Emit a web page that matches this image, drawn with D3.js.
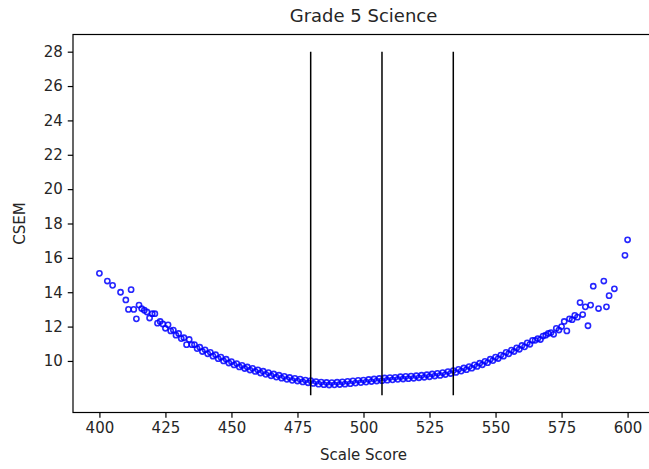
<!DOCTYPE html>
<html>
<head>
<meta charset="utf-8">
<script src="https://cdn.jsdelivr.net/npm/d3@7"></script>
<style>
  body { margin: 0; background: #fff; }
  text { font-family: "DejaVu Sans", sans-serif; fill: #262626; }
</style>
</head>
<body>
<script>
var width = 649;
var height = 469;

var title = "Grade 5 Science";
var xLabel = "Scale Score";
var yLabel = "CSEM";

// scale score and CSEM
var scores = [400, 403, 405, 408, 410, 411, 412, 413, 414, 415, 416, 417, 418, 419, 420, 421, 422, 423, 424, 425,
  426, 427, 428, 429, 430, 431, 432, 433, 434, 435, 436, 437, 438, 439, 440, 441, 442, 443, 444, 445,
  446, 447, 448, 449, 450, 451, 452, 453, 454, 455, 456, 457, 458, 459, 460, 461, 462, 463, 464, 465,
  466, 467, 468, 469, 470, 471, 472, 473, 474, 475, 476, 477, 478, 479, 480, 481, 482, 483, 484, 485,
  486, 487, 488, 489, 490, 491, 492, 493, 494, 495, 496, 497, 498, 499, 500, 501, 502, 503, 504, 505,
  506, 507, 508, 509, 510, 511, 512, 513, 514, 515, 516, 517, 518, 519, 520, 521, 522, 523, 524, 525,
  526, 527, 528, 529, 530, 531, 532, 533, 534, 535, 536, 537, 538, 539, 540, 541, 542, 543, 544, 545,
  546, 547, 548, 549, 550, 551, 552, 553, 554, 555, 556, 557, 558, 559, 560, 561, 562, 563, 564, 565,
  566, 567, 568, 569, 570, 571, 572, 573, 574, 575, 576, 577, 578, 579, 580, 581, 582, 583, 584, 585,
  586, 587, 589, 591, 592, 593, 595, 599, 600];
var csem = [15.1, 14.65, 14.4, 14.0, 13.55, 13.0, 14.15, 13.0, 12.45, 13.25, 13.05, 12.95, 12.85, 12.5, 12.75, 12.75, 12.2, 12.3, 12.15, 11.9,
  12.1, 11.75, 11.8, 11.5, 11.6, 11.3, 11.35, 10.95, 11.25, 10.95, 10.95, 10.72, 10.8, 10.55, 10.65, 10.42, 10.5, 10.28, 10.36, 10.13,
  10.22, 10.0, 10.1, 9.88, 9.96, 9.77, 9.85, 9.65, 9.74, 9.56, 9.65, 9.47, 9.57, 9.39, 9.48, 9.3, 9.4, 9.22, 9.32, 9.14,
  9.24, 9.06, 9.17, 9.0, 9.1, 8.93, 9.04, 8.87, 8.99, 8.83, 8.94, 8.78, 8.89, 8.73, 8.85, 8.69, 8.8, 8.65, 8.77, 8.62,
  8.75, 8.6, 8.74, 8.61, 8.76, 8.63, 8.78, 8.65, 8.81, 8.68, 8.84, 8.71, 8.87, 8.74, 8.89, 8.77, 8.92, 8.8, 8.95, 8.83,
  8.98, 8.85, 9.01, 8.88, 9.03, 8.9, 9.05, 8.93, 9.08, 8.95, 9.1, 8.97, 9.12, 8.99, 9.14, 9.02, 9.17, 9.05, 9.2, 9.08,
  9.24, 9.12, 9.28, 9.16, 9.32, 9.21, 9.38, 9.27, 9.44, 9.33, 9.51, 9.41, 9.59, 9.49, 9.67, 9.58, 9.77, 9.68, 9.87, 9.78,
  9.98, 9.9, 10.1, 10.02, 10.22, 10.14, 10.34, 10.28, 10.5, 10.42, 10.63, 10.55, 10.76, 10.68, 10.9, 10.82, 11.05, 10.97, 11.2, 11.2,
  11.3, 11.25, 11.45, 11.5, 11.6, 11.65, 11.55, 11.9, 11.8, 12.0, 12.3, 11.75, 12.45, 12.4, 12.65, 12.55, 13.4, 12.7, 13.15, 12.05,
  13.25, 14.35, 13.05, 14.65, 13.15, 13.8, 14.2, 16.15, 17.05];

// cut score lines
var cutScores = [480, 507, 534];
var cutRange = [8, 28];

var xTicks = [400, 425, 450, 475, 500, 525, 550, 575, 600];
var yTicks = [10, 12, 14, 16, 18, 20, 22, 24, 26, 28];

var margin = { left: 73, top: 34.5, right: 654, bottom: 412.5 };

var svg = d3.select("body")
    .append("svg")
    .attr("width", width)
    .attr("height", height);

svg.append("rect")
    .attr("width", width)
    .attr("height", height)
    .style("fill", "#fff");

var x = d3.scaleLinear().domain([390, 610]).range([margin.left, margin.right]);
var y = d3.scaleLinear().domain([7, 29]).range([margin.bottom, margin.top]);

// points
var points = svg.append("g");
scores.forEach(function (s, i) {
    points.append("circle")
        .attr("cx", x(s))
        .attr("cy", y(csem[i]))
        .attr("r", 2.6)
        .style("fill", "none")
        .style("stroke", "#0000ff")
        .style("stroke-opacity", 0.85)
        .style("stroke-width", 1.6);
});

// cut lines
svg.append("g")
    .selectAll("line")
    .data(cutScores)
    .enter().append("line")
    .attr("x1", function (d) { return x(d); })
    .attr("x2", function (d) { return x(d); })
    .attr("y1", y(cutRange[0]))
    .attr("y2", y(cutRange[1]))
    .style("stroke", "black")
    .style("stroke-width", 1.5);

// axes
var xAxis = svg.append("g")
    .attr("transform", "translate(0," + margin.bottom + ")")
    .call(d3.axisBottom(x).tickValues(xTicks).tickSize(5.25).tickPadding(5).tickSizeOuter(0));
var yAxis = svg.append("g")
    .attr("transform", "translate(" + margin.left + ",0)")
    .call(d3.axisLeft(y).tickValues(yTicks).tickSize(5.25).tickPadding(5).tickSizeOuter(0));

[xAxis, yAxis].forEach(function (a) {
    a.select(".domain").remove();
    a.selectAll("line").style("stroke", "#000").style("stroke-width", 1.2);
    a.selectAll("text").style("font-size", "15px").style("fill", "#262626");
});

// frame
svg.append("rect")
    .attr("x", margin.left)
    .attr("y", margin.top)
    .attr("width", margin.right - margin.left)
    .attr("height", margin.bottom - margin.top)
    .style("fill", "none")
    .style("stroke", "#000")
    .style("stroke-width", 1.2);

svg.append("text")
    .attr("x", (margin.left + margin.right) / 2)
    .attr("y", 22)
    .attr("text-anchor", "middle")
    .style("font-size", "18px")
    .text(title);

svg.append("text")
    .attr("x", (margin.left + margin.right) / 2)
    .attr("y", 460)
    .attr("text-anchor", "middle")
    .style("font-size", "15px")
    .text(xLabel);

svg.append("text")
    .attr("transform", "translate(25," + (margin.top + margin.bottom) / 2 + ") rotate(-90)")
    .attr("text-anchor", "middle")
    .style("font-size", "15px")
    .text(yLabel);
</script>
</body>
</html>
